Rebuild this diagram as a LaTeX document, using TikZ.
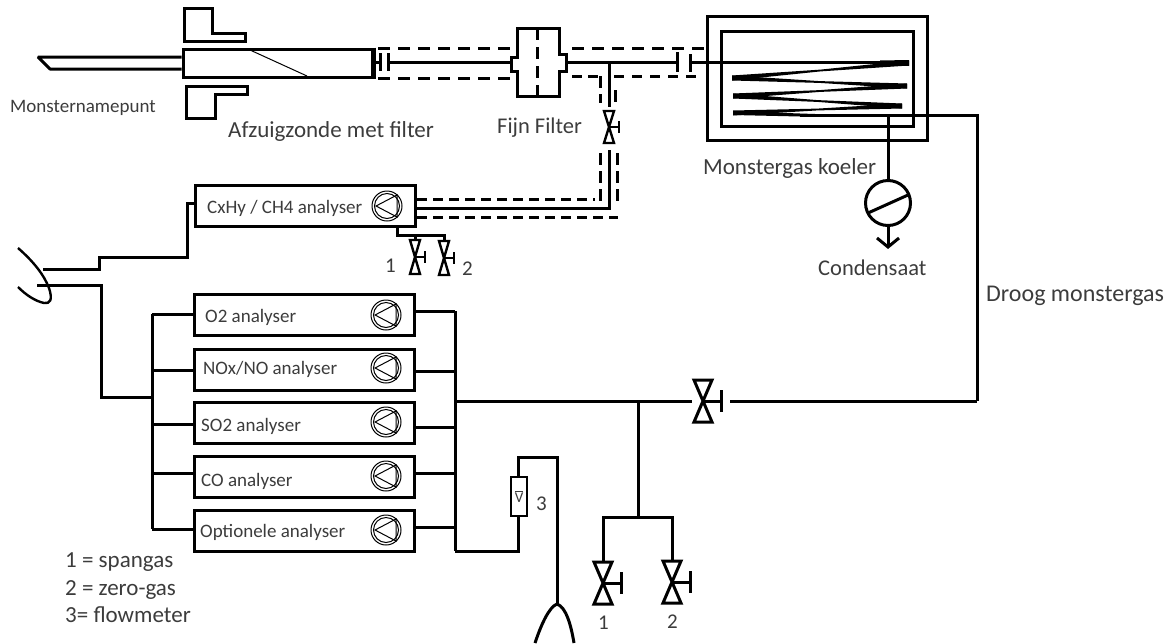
\documentclass[tikz,border=0pt]{standalone}
\usepackage{fontspec}
\setmainfont{Carlito}
\definecolor{lbl}{HTML}{3C3C3C}
\newcommand{\coilseg}[4]{% x1 y1 x2 y2: tapered stretch, thick at both ends
  \fill ({#1},{#2-2.5}) -- ({(#1+#3)/2},{(#2+#4)/2-0.9}) -- ({#3},{#4-2.5}) -- ({#3},{#4+2.5}) -- ({(#1+#3)/2},{(#2+#4)/2+0.9}) -- ({#1},{#2+2.5}) -- cycle;}
\tikzset{
  pipe/.style={line width=3pt,line join=miter,line cap=butt},
  jacket/.style={line width=3pt,dash pattern=on 12pt off 8pt},
  boxed/.style={draw,line width=3pt,fill=white,inner sep=0pt},
  analyser/.style={boxed,minimum width=220pt,minimum height=41pt},
  lab/.style={text=lbl,inner sep=0pt,anchor=base west},
  labbig/.style={lab,font=\fontsize{23}{23}\selectfont},
  labmid/.style={lab,font=\fontsize{22.5}{22.5}\selectfont},
  labsm/.style={lab,font=\fontsize{19}{19}\selectfont},
  labnum/.style={lab,font=\fontsize{21}{21}\selectfont},
  pics/pumpsym/.style={code={
    \draw[line width=1pt] (0,0) circle[radius=15];
    \draw[line width=1pt] (0,0) circle[radius=12.5];
    \draw[line width=1pt,line join=miter] (10,-11) -- (-11,0) -- (10,11) -- cycle;
  }},
  pics/valvesym/.style n args={3}{code={
    \draw[line width=#3,fill=white,line join=miter] (-#1,-#2) -- (#1,-#2) -- (0,0) -- (#1,#2) -- (-#1,#2) -- (0,0) -- cycle;
    \draw[line width=#3] (0,0) -- (#1*2,0);
    \draw[line width=#3] (#1*2,-#1*1.2) -- (#1*2,#1*1.2);
  }},
}
\begin{document}
\begin{tikzpicture}[x=1pt,y=-1pt]
\useasboundingbox (0,0) rectangle (1169,643);
% probe
\draw[line width=3pt,line join=miter] (184,8) -- (212,8) -- (212,33) -- (245,33) -- (245,41) -- (184,41) -- cycle;
\draw[line width=3pt,line join=miter] (186,86) -- (247,86) -- (247,94) -- (215,94) -- (215,118) -- (186,118) -- cycle;
\node[boxed,minimum width=189pt,minimum height=28pt] (probe) at (277.5,63) {};
\draw[line width=4.5pt] (probe.north east) -- (probe.south east);
\draw[line width=1pt] (250,50) -- (307,76);
\coordinate (tipa) at (38,57);
\coordinate (tipb) at (50,69);
\draw[pipe,line join=bevel] (probe.west |- 0,57) -- (tipa) -- (tipb) -- (probe.west |- 0,69);
% filter
\coordinate (fl1) at (380,62);
\coordinate (fl2) at (388,62);
\draw[pipe] (probe.east |- fl1) -- (fl1);
\draw[pipe] (380,53) -- (380,71);
\draw[pipe] (388,53) -- (388,71);
\draw[jacket] (378,48) -- (511,48);
\draw[jacket] (378,78) -- (511,78);
\node[inner sep=0pt,minimum width=55pt,minimum height=68pt] (filter) at (538.5,62) {};
\draw[line width=3pt,line join=miter,fill=white] (517,28) -- (559,28) -- (559,54) -- (566,54) -- (566,71) -- (559,71) -- (559,96) -- (517,96) -- (517,71) -- (511,71) -- (511,57) -- (517,57) -- cycle;
\draw[line width=3pt,dash pattern=on 12pt off 7pt] (537,28) -- (537,96);
\draw[pipe] (fl2) -- (511,62);
% after filter
\coordinate (fl3) at (677,62);
\coordinate (fl4) at (690,62);
\coordinate (tee) at (609,62);
\draw[pipe] (566,62) -- (fl3);
\draw[pipe] (677,52) -- (677,72);
\draw[pipe] (690,54) -- (690,72);
\draw[jacket] (572,48) -- (704,48);
\draw[line width=3pt,dash pattern=on 10pt off 6pt] (572,76) -- (598,76);
\draw[line width=3pt,dash pattern=on 10pt off 8pt] (614,76) -- (702,76);
\draw[line width=3pt,dash pattern=on 12pt off 6pt] (600,76) -- (600,103);
\draw[line width=3pt,dash pattern=on 12pt off 6pt] (615,90) -- (615,103);
% cooler
\node[boxed,fill=none,minimum width=220pt,minimum height=124pt] (koeler) at (817,78) {};
\node[boxed,fill=none,minimum width=192pt,minimum height=95pt] (binnen) at (817,78.5) {};
\fill (690,60.5) rectangle (880,63.5);
\fill (880,60.5) -- (909,60) -- (909,66) -- (880,65) -- cycle;
\coilseg{909}{63}{732}{78}
\coilseg{732}{78}{907}{86}
\coilseg{907}{86}{733}{96}
\coilseg{733}{96}{902}{106}
\coilseg{902}{106}{733}{113}
\fill (733,111) -- (800,113.5) -- (890,116.5) -- (800,116.5) -- (733,115) -- cycle;
% exit
\coordinate (exitT) at (888,115);
\coordinate (bend1) at (977,115);
\coordinate (bend2) at (977,401);
\draw[pipe] (800,115) -- (bend1) -- (bend2);
\node[draw,circle,line width=3pt,minimum size=45pt,inner sep=0pt] (trap) at (888,203) {};
\draw[pipe] (exitT) -- (trap.north);
\draw[pipe] (868,213) -- (908,195);
\coordinate (drain) at (888,247);
\draw[pipe] (trap.south) -- (drain);
\draw[pipe] (877,238) -- (drain) -- (899,238);
% sample valve and lines to CxHy
\pic at (609,127) {valvesym={5}{16}{2.4pt}};
\coordinate (v0top) at (609,107);
\coordinate (v0bot) at (609,150);
\draw[pipe] (tee) -- (v0top);
% analysers
\node[analyser] (cx) at (305,206) {};
\node[analyser] (o2) at (304,314.5) {};
\node[analyser] (nox) at (304,369.5) {};
\node[analyser] (so2) at (304,423) {};
\node[analyser] (co) at (304,476.5) {};
\node[analyser] (opt) at (304,531) {};
\pic at (387,206) {pumpsym};
\pic at (386,315) {pumpsym};
\pic at (386,368) {pumpsym};
\pic at (386,422) {pumpsym};
\pic at (386,476) {pumpsym};
\pic at (386,530) {pumpsym};
\node[labsm] at (207,213) {CxHy / CH4 analyser};
\node[labsm] at (205,322) {O2 analyser};
\node[labsm] at (203,374) {NOx/NO analyser};
\node[labsm] at (201,431) {SO2 analyser};
\node[labsm] at (201,486) {CO analyser};
\node[labsm] at (200,537) {Optionele analyser};
% jacketed line
\coordinate (cxbend) at (609,208);
\draw[pipe,line join=miter] (v0bot) -- (cxbend) -- (cx.east |- cxbend);
\draw[line width=3pt,dash pattern=on 10pt off 6pt] (417,199) -- (595,199);
\draw[line width=3pt,dash pattern=on 10pt off 6pt] (417,217) -- (618,217);
\draw[line width=3pt,dash pattern=on 12pt off 6pt] (600,153) -- (600,201);
\draw[line width=3pt,dash pattern=on 12pt off 6pt] (617,153) -- (617,206);
% span / zero small
\coordinate (sm0) at (397,235);
\coordinate (sm1) at (415,235);
\coordinate (sm2) at (444,235);
\draw[pipe] (cx.south -| sm0) -- (sm0) -- (sm2) -- ++(0,5);
\draw[pipe] (sm1) -- ++(0,5);
\pic at (415,257) {valvesym={5}{17}{2.4pt}};
\pic at (444,258) {valvesym={5}{17}{2.4pt}};
\node[labnum] at (385,272) {1};
\node[labnum] at (462,275) {2};
% vent 1
\draw[line width=2.4pt] (18,248) .. controls (34,262) and (44,275) .. (49,288) .. controls (53,300) and (50,304) .. (44,303) .. controls (35,301) and (26,295) .. (18,287);
\coordinate (cxin) at (195,203);
\draw[pipe] (43,269) -- (99,269) -- (99,257) -- (187,257) -- (187,203) -- (cxin);
\coordinate (lbus) at (152,397);
\draw[pipe] (37,285) -- (101,285) -- (101,397) -- (lbus);
% left bus
\draw[pipe] (152,314) -- (152,529);
\draw[pipe] (152,314) -- (o2.west |- 0,314);
\draw[pipe] (152,370) -- (nox.west |- 0,370);
\draw[pipe] (152,424) -- (so2.west |- 0,424);
\draw[pipe] (152,473) -- (co.west |- 0,473);
\draw[pipe] (152,529) -- (opt.west |- 0,529);
% right bus
\draw[pipe] (455,311) -- (455,551);
\draw[pipe] (o2.east |- 0,311) -- (455,311);
\draw[pipe] (nox.east |- 0,371) -- (455,371);
\draw[pipe] (so2.east |- 0,427) -- (455,427);
\draw[pipe] (co.east |- 0,473) -- (455,473);
\draw[pipe] (opt.east |- 0,527) -- (455,527);
% main line
\coordinate (mainT) at (638,401);
\coordinate (gasT) at (638,517);
\pic at (703,401) {valvesym={9}{21}{3pt}};
\draw[pipe] (455,401) -- (692,401);
\draw[pipe] (730,401) -- (bend2);
\draw[pipe] (mainT) -- (gasT);
\draw[pipe] (603,562) -- (603,517) -- (672,517) -- (672,562);
\pic at (603,583) {valvesym={9}{21}{3pt}};
\pic at (672,582) {valvesym={9}{21}{3pt}};
\node[labnum] at (598,629) {1};
\node[labnum] at (667,628) {2};
% flowmeter
\node[draw,line width=2.4pt,fill=white,minimum width=16pt,minimum height=39pt,inner sep=0pt,font=\fontsize{15}{15}\selectfont,text=lbl] (fm) at (519,496.5) {$\overline{\mathrm{V}}$};
\draw[pipe] (455,551) -- (518,551) -- (fm.south -| 518,0);
\coordinate (fmt) at (518,457);
\coordinate (fmr) at (557,457);
\coordinate (ventT) at (557,604);
\draw[pipe] (fm.north -| fmt) -- (fmt) -- (fmr) -- (ventT);
\draw[pipe] (535,643) .. controls (541,625) and (549,607) .. (ventT) .. controls (566,607) and (571,625) .. (574,643);
\node[labnum] at (536,510) {3};
% labels
\node[labsm] at (10,112) {Monsternamepunt};
\node[labbig] at (228,137) {Afzuigzonde met filter};
\node[labmid] at (497,133) {Fijn Filter};
\node[labbig] at (703,174) {Monstergas koeler};
\node[labmid] at (818,275) {Condensaat};
\node[lab,font=\fontsize{24}{24}\selectfont] at (986,301) {Droog monstergas};
\node[labbig] at (65,567) {1 = spangas};
\node[labbig] at (65,595) {2 = zero-gas};
\node[labbig] at (65,622) {3= flowmeter};
\end{tikzpicture}
\end{document}
